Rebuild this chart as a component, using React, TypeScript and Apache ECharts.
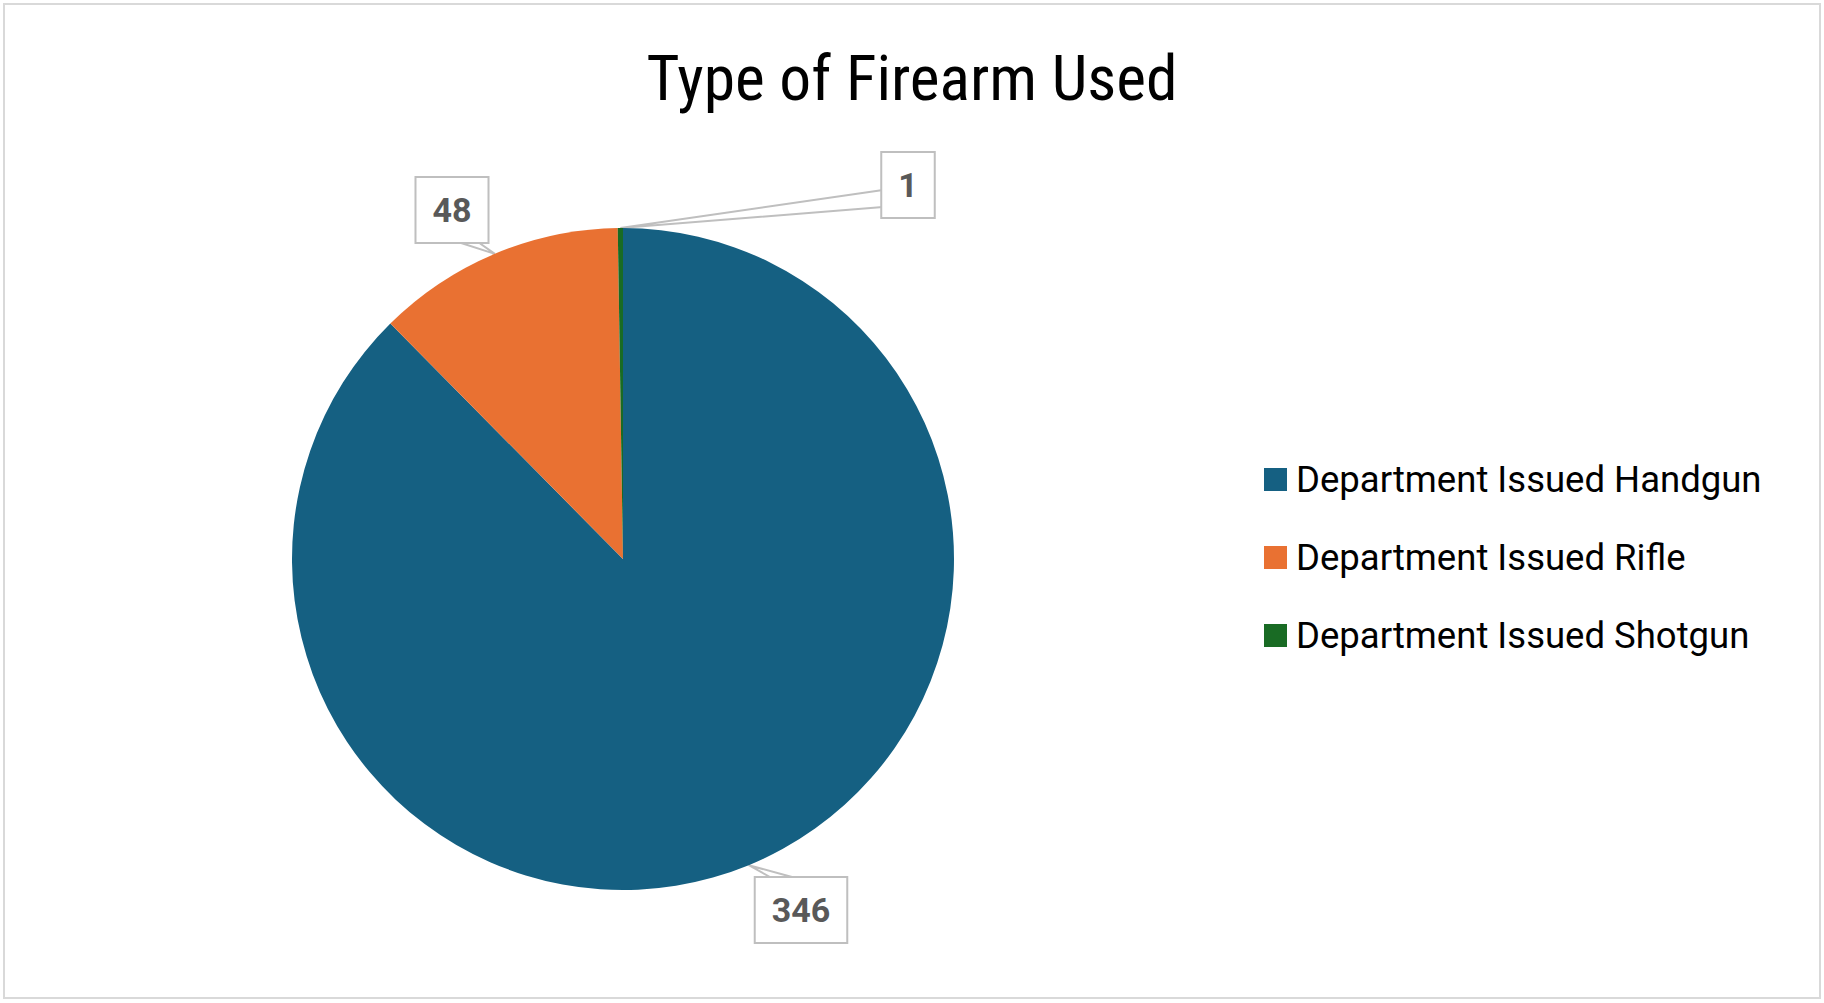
import { useEffect, useRef } from "react"
import * as echarts from "echarts"

const categories = ["Department Issued Handgun", "Department Issued Rifle", "Department Issued Shotgun"]
const counts = [346, 48, 1]
const sliceColors = ["#156082", "#E97132", "#196B24"]

// where Excel put the callout boxes (box centres, px)
const labelSpots = [
  [801, 910],
  [452, 210],
  [908, 185],
]
// base of each callout wedge, as two offsets from the box centre
const wedgeBases = [
  [[-31, -33], [-9, -33]],
  [[6, 32], [26, 32]],
  [[-25, 5], [-25, 22]],
]

export default function App() {
  const chartRef = useRef<HTMLDivElement>(null)

  useEffect(() => {
    if (!chartRef.current) return
    const chart = echarts.init(chartRef.current, null, { renderer: "svg" })

    chart.setOption({
      animation: false,
      backgroundColor: "#ffffff",
      title: {
        text: "Type of Firearm Used",
        left: "center",
        top: 41,
        textStyle: {
          fontFamily: "'Liberation Sans Narrow', 'Roboto Condensed', Roboto",
          fontSize: 63.5,
          fontWeight: "normal",
          color: "#000000",
        },
      },
      legend: {
        orient: "vertical",
        left: 1259,
        top: 456,
        icon: "rect",
        itemWidth: 23,
        itemHeight: 23,
        itemGap: 41,
        selectedMode: false,
        textStyle: {
          fontFamily: "Roboto",
          fontSize: 36.5,
          lineHeight: 36,
          color: "#000000",
          padding: [0, 0, 0, 4],
        },
        data: categories,
      },
      graphic: [
        {
          type: "rect",
          shape: { x: 4, y: 4, width: 1816, height: 994 },
          style: { fill: "none", stroke: "#d9d9d9", lineWidth: 2 },
          silent: true,
        },
      ],
      series: [
        {
          type: "pie",
          center: [623, 559],
          radius: 331,
          startAngle: 90,
          clockwise: true,
          avoidLabelOverlap: false,
          itemStyle: { borderWidth: 0 },
          label: {
            show: true,
            position: "outside",
            formatter: "{c}",
            fontFamily: "Roboto",
            fontSize: 34,
            fontWeight: "bold",
            color: "#595959",
            backgroundColor: "#ffffff",
            borderColor: "#bfbfbf",
            borderWidth: 2,
            padding: [15, 16],
            lineHeight: 34,
          },
          labelLine: {
            show: true,
            length: 10,
            length2: 10,
            lineStyle: { color: "#bfbfbf", width: 2 },
          },
          labelLayout: (params: any) => {
            const i = params.dataIndex
            const [cx, cy] = labelSpots[i]
            const out: any = { x: cx, y: cy, align: "center", verticalAlign: "middle" }
            const tip = params.labelLinePoints && params.labelLinePoints[0]
            if (tip) {
              const [a, b] = wedgeBases[i]
              out.labelLinePoints = [
                [cx + a[0], cy + a[1]],
                [tip[0], tip[1]],
                [cx + b[0], cy + b[1]],
              ]
            }
            return out
          },
          emphasis: { disabled: true },
          data: categories.map((name, i) => ({
            name,
            value: counts[i],
            itemStyle: { color: sliceColors[i] },
          })),
        },
      ],
    })

    return () => {
      chart.dispose()
    }
  }, [])

  return (
    <div
      ref={chartRef}
      style={{ position: "fixed", left: 0, top: 0, width: "1824px", height: "1003px", background: "#ffffff" }}
    />
  )
}
